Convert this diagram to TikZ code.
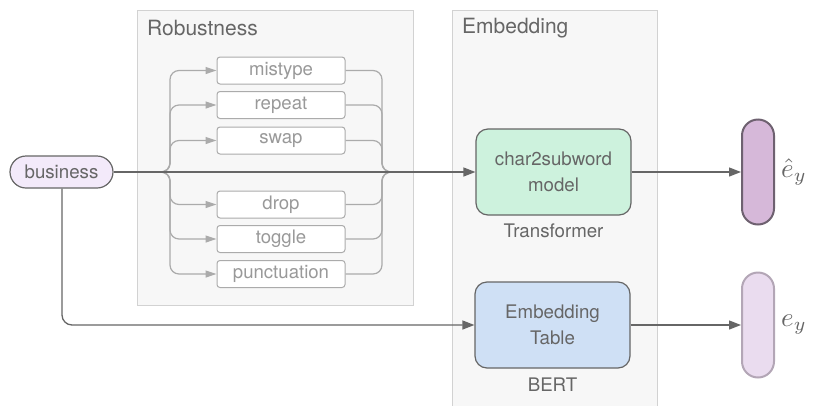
\documentclass[tikz,border=0pt]{standalone}
\usepackage{fontspec}
\setmainfont{TeX Gyre Heros}
\usetikzlibrary{arrows.meta,positioning,calc}
\definecolor{panelfill}{HTML}{F7F7F7}
\definecolor{panelline}{HTML}{D2D2D2}
\definecolor{dark}{HTML}{666666}
\definecolor{lite}{HTML}{ABABAB}
\definecolor{litetext}{HTML}{999999}
\definecolor{bizfill}{HTML}{F3EAFA}
\definecolor{greenfill}{HTML}{CDF2DD}
\definecolor{bluefill}{HTML}{CFE0F5}
\definecolor{ovalA}{HTML}{D6B8D9}
\definecolor{ovalAline}{HTML}{6E6170}
\definecolor{ovalB}{HTML}{EADCEF}
\definecolor{ovalBline}{HTML}{B3A6B6}
\begin{document}
\begin{tikzpicture}[x=1pt,y=-1pt,
  panel/.style={fill=panelfill,draw=panelline,line width=0.8pt},
  title/.style={anchor=west,text=dark,font=\fontsize{21}{24}\selectfont,inner sep=0pt},
  robbox/.style={draw=lite,line width=1pt,rounded corners=3pt,minimum width=128pt,minimum height=27pt,inner sep=0pt,text=litetext,font=\fontsize{18.6}{22}\selectfont,fill=white},
  modelbox/.style={draw=dark,line width=1.2pt,rounded corners=12pt,minimum width=155pt,minimum height=86pt,inner sep=0pt,text=dark,align=center,font=\fontsize{18.7}{26}\selectfont},
  caption/.style={text=dark,font=\fontsize{18.7}{22}\selectfont,inner sep=0pt},
  oval/.style={rounded corners=16pt,minimum width=32pt,minimum height=105pt,inner sep=0pt,line width=2pt},
  mainline/.style={draw=dark,line width=1.3pt},
  mainarrow/.style={mainline,-{Triangle[length=12pt,width=9pt]}},
  grayarrow/.style={draw=lite,line width=1.2pt,rounded corners=9pt,-{Triangle[length=11pt,width=7pt]}},
  grayline/.style={draw=lite,line width=1.2pt,rounded corners=9pt},
  mathlabel/.style={anchor=base west,text=dark,inner sep=0pt}
]
\useasboundingbox (0,0) rectangle (814,405);
% panels
\path[panel] (137,10) rectangle (413,305);
\path[panel] (452,10) rectangle (657,410);
\node[title] (trob) at (147,28) {Robustness};
\node[title] (temb) at (462,28) {Embedding};
% robustness boxes
\node[robbox] (mistype) at (281,70.5) {mistype};
\node[robbox] (repeat) at (281,105) {repeat};
\node[robbox] (swap) at (281,140.5) {swap};
\node[robbox] (drop) at (281,204.5) {drop};
\node[robbox] (toggle) at (281,239) {toggle};
\node[robbox] (punct) at (281,274) {punctuation};
\coordinate (L) at (156,172);
\coordinate (R) at (396,172);
\foreach \b in {mistype,repeat,swap,drop,toggle,punct}{
  \draw[grayarrow] (L) -| (170,0 |- \b.west) -- (\b.west);
  \draw[grayline] (\b.east) -- (382,0 |- \b.east) |- (R);
}
% business
\node[draw=dark,fill=bizfill,line width=1.2pt,rounded corners=16pt,minimum width=103pt,minimum height=32pt,inner sep=0pt,text=dark,font=\fontsize{18.7}{22}\selectfont] (biz) at (61.5,172) {business};
% models
\node[modelbox,fill=greenfill] (c2s) at (553.5,172) {char2subword\\model};
\node[caption] (ttrans) at (553.5,231) {Transformer};
\node[modelbox,fill=bluefill] (emb) at (552.5,325) {Embedding\\Table};
\node[caption] (tbert) at (552.5,385) {BERT};
% outputs
\node[oval,fill=ovalA,draw=ovalAline] (ehat) at (758,172) {};
\node[oval,fill=ovalB,draw=ovalBline] (e) at (758,325) {};
\node[mathlabel] (lhat) at (781,177.5) {\scalebox{2.7}{$\hat{e}_y$}};
\node[mathlabel] (le) at (781,326.5) {\scalebox{2.7}{$e_y$}};
% connectors
\draw[mainarrow] (biz.east) -- (c2s.west);
\draw[mainarrow,rounded corners=10pt] (biz.south -| 62,0) |- (emb.west);
\draw[mainarrow] (c2s.east) -- (ehat.west);
\draw[mainarrow] (emb.east) -- (e.west);
\end{tikzpicture}
\end{document}
